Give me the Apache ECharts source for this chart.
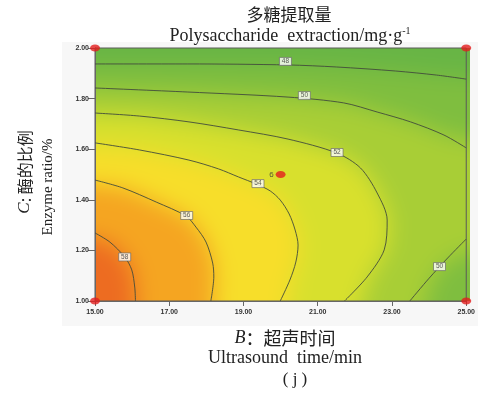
<!DOCTYPE html>
<html><head><meta charset="utf-8">
<script src="https://cdn.jsdelivr.net/npm/echarts@6/dist/echarts.min.js"></script>
<style>
html,body{margin:0;padding:0;background:#fff;}
#wrap{position:relative;width:478px;height:398px;overflow:hidden;}
#panel{position:absolute;left:62px;top:42px;width:416px;height:284px;background:#f7f7f7;}
#clip{position:absolute;left:95px;top:48px;width:375px;height:253px;overflow:hidden;}
#bg{position:absolute;left:-155px;top:-108px;width:640px;height:480px;filter:blur(11px);}
#fg{position:absolute;left:0;top:0;width:478px;height:398px;}
</style></head><body>
<div id="wrap"><div id="panel"></div><div id="clip"><div id="bg"></div></div><div id="fg"></div></div>
<script>
// ---- data ----
const xTicks = [15, 17, 19, 21, 23, 25];          // B: ultrasound time (min)
const yTicks = [1.0, 1.2, 1.4, 1.6, 1.8, 2.0];     // C: enzyme ratio (%)
const levels = [48, 50, 52, 54, 56, 58];
const contour48 = [[15,1.937],[17.5,1.937],[20.2,1.933],[21.5,1.925],[23.1,1.909],[24.2,1.893],[25,1.877]];
const contour50a = [[15,1.842],[17.5,1.826],[20.2,1.806],[21.7,1.783],[22.6,1.747],[23.5,1.708],[24.4,1.656],[25,1.605]];
const contour50b = [[23.48,1.0],[24.0,1.09],[24.5,1.17],[25,1.245]];
const contour52 = [[15,1.743],[16.2,1.731],[17.53,1.708],[18.87,1.676],[20.2,1.64],[21.51,1.585],[22.15,1.526],[22.6,1.427],[22.87,1.32],[22.79,1.202],[22.33,1.095],[21.72,1.0]];
const contour54 = [[15,1.625],[16.2,1.597],[17.53,1.557],[18.33,1.522],[18.87,1.49],[19.35,1.462],[19.72,1.435],[19.99,1.399],[20.23,1.344],[20.39,1.281],[20.47,1.221],[20.41,1.154],[20.25,1.083],[19.99,1.0]];
const contour56 = [[15,1.478],[15.75,1.447],[16.65,1.391],[17.45,1.336],[17.72,1.292],[17.99,1.233],[18.17,1.15],[18.2,1.095],[18.12,1.0]];
const contour58 = [[15,1.269],[15.4,1.233],[15.8,1.174],[15.99,1.123],[16.07,1.055],[16.09,1.0]];
const contourLabels = [[20.13,1.947,'48'],[20.64,1.812,'50'],[21.52,1.587,'52'],[19.39,1.464,'54'],[17.47,1.338,'56'],[15.8,1.174,'58'],[24.28,1.136,'50']];
const designPoints = [[15,2],[25,2],[15,1],[25,1],[20,1.5]];
const designLabels = ['', '', '', '', '6'];

// ---- layout / style ----
const B_MIN = 15, B_MAX = 25, C_MIN = 1, C_MAX = 2;
const PL = 95, PT = 48, PW = 375, PH = 253;
const BG_OFF_X = 60, BG_OFF_Y = 60, EXT = 50;
const bandColors = ['#68b545', '#7fbe3f', '#a8ce36', '#d8e02d', '#f7de2a', '#f5a521', '#ed6c21'];
const lineColor = '#434c3c';
const serif = '"Liberation Serif", "Noto Sans CJK SC"';
const cjk = '"Noto Sans CJK SC"';

const regions = [
  [[B_MIN,C_MIN],[B_MIN,C_MAX],[B_MAX,C_MAX],[B_MAX,C_MIN]],
  contour48.concat([[B_MAX,C_MIN],[B_MIN,C_MIN]]),
  contour50a.concat(contour50b.slice().reverse(), [[B_MIN,C_MIN]]),
  contour52.concat([[B_MIN,C_MIN]]),
  contour54.concat([[B_MIN,C_MIN]]),
  contour56.concat([[B_MIN,C_MIN]]),
  contour58.concat([[B_MIN,C_MIN]])
];

function regionSeries(points, color) {
  return {
    type: 'custom', clip: false, silent: true,
    data: points, encode: {x: 0, y: 1},
    renderItem: function (params, api) {
      if (params.dataIndex !== 0) return null;
      const pts = points.map(function (p) {
        const c = api.coord(p);
        if (p[0] <= B_MIN) c[0] -= EXT;
        if (p[0] >= B_MAX) c[0] += EXT;
        if (p[1] <= C_MIN) c[1] += EXT;
        if (p[1] >= C_MAX) c[1] -= EXT;
        return c;
      });
      return {type: 'polygon', shape: {points: pts}, style: {fill: color}};
    }
  };
}

const bg = echarts.init(document.getElementById('bg'), null, {renderer: 'canvas'});
bg.setOption({
  animation: false,
  grid: {left: PL + BG_OFF_X, top: PT + BG_OFF_Y, width: PW, height: PH},
  xAxis: {type: 'value', min: B_MIN, max: B_MAX, show: false},
  yAxis: {type: 'value', min: C_MIN, max: C_MAX, show: false},
  series: regions.map(function (r, i) { return regionSeries(r, bandColors[i]); })
});

const contours = [contour48, contour50a, contour50b, contour52, contour54, contour56, contour58];
const fg = echarts.init(document.getElementById('fg'), null, {renderer: 'canvas'});
fg.setOption({
  animation: false,
  backgroundColor: 'transparent',
  grid: {left: PL, top: PT, width: PW, height: PH, show: true, borderColor: '#5a5a5a', borderWidth: 1, backgroundColor: 'transparent'},
  xAxis: {
    type: 'value', min: xTicks[0], max: xTicks[xTicks.length - 1], interval: xTicks[1] - xTicks[0],
    axisLine: {show: true, lineStyle: {color: '#666', width: 1}},
    axisTick: {show: true, length: 5, lineStyle: {color: '#666'}},
    splitLine: {show: false},
    axisLabel: {fontSize: 7, color: '#333', margin: 8, fontFamily: '"Liberation Sans", Arial', fontWeight: 'bold',
      formatter: function (v) { return v.toFixed(2); }}
  },
  yAxis: {
    type: 'value', min: yTicks[0], max: yTicks[yTicks.length - 1], interval: 0.2,
    axisLine: {show: true, lineStyle: {color: '#666', width: 1}},
    axisTick: {show: true, length: 7, lineStyle: {color: '#666'}},
    splitLine: {show: false},
    axisLabel: {fontSize: 7, color: '#333', margin: 6, fontFamily: '"Liberation Sans", Arial', fontWeight: 'bold',
      formatter: function (v) { return v.toFixed(2); }}
  },
  series: contours.map(function (c) {
    return {type: 'line', data: c, symbol: 'none', smooth: 0.3, silent: true, z: 3,
      lineStyle: {color: lineColor, width: 0.9}};
  }).concat([
    {type: 'scatter', z: 5, silent: true, symbol: 'rect', symbolSize: [12, 8],
      itemStyle: {color: '#fff', borderColor: '#666', borderWidth: 0.8},
      data: contourLabels,
      label: {show: true, position: 'inside', fontSize: 6.5, color: '#333', fontFamily: '"Liberation Sans", Arial',
        formatter: function (p) { return p.data[2]; }}},
    {type: 'scatter', z: 6, silent: true, clip: false, symbol: 'circle', symbolSize: [10, 7],
      itemStyle: {color: '#e31d1d'},
      data: designPoints.map(function (p, i) {
        return {value: p, label: {show: designLabels[i] !== '', formatter: designLabels[i], position: 'left',
          distance: 2, fontSize: 8, color: '#333', fontFamily: '"Liberation Sans", Arial'}};
      })}
  ]),
  graphic: [
    {type: 'text', x: 289, y: 15, style: {text: '多糖提取量', font: '17px ' + cjk, fill: '#222', align: 'center', verticalAlign: 'middle'}},
    {type: 'text', x: 290, y: 36, style: {
      text: '{a|Polysaccharide  extraction/mg·g}{s|-1}', align: 'center', verticalAlign: 'middle',
      rich: {a: {font: '18px ' + serif, fill: '#222'}, s: {font: '10px ' + serif, fill: '#222', padding: [0, 0, 10, 0]}}}},
    {type: 'text', x: 25, y: 172, rotation: Math.PI / 2, style: {
      text: '{i|C}{n|: 酶的比例}', align: 'center', verticalAlign: 'middle',
      rich: {i: {font: 'italic 17px ' + serif, fill: '#222'}, n: {font: '16px ' + cjk, fill: '#222'}}}},
    {type: 'text', x: 48, y: 187, rotation: Math.PI / 2, style: {
      text: 'Enzyme ratio/%', font: '15px ' + serif, fill: '#222', align: 'center', verticalAlign: 'middle'}},
    {type: 'text', x: 285, y: 338, style: {
      text: '{i|B}{n|：超声时间}', align: 'center', verticalAlign: 'middle',
      rich: {i: {font: 'italic 18px ' + serif, fill: '#222'}, n: {font: '18px ' + cjk, fill: '#222'}}}},
    {type: 'text', x: 285, y: 358, style: {text: 'Ultrasound  time/min', font: '18px ' + serif, fill: '#222', align: 'center', verticalAlign: 'middle'}},
    {type: 'text', x: 295, y: 380, style: {text: '( j )', font: '17px ' + serif, fill: '#222', align: 'center', verticalAlign: 'middle'}}
  ]
});
</script>
</body></html>
